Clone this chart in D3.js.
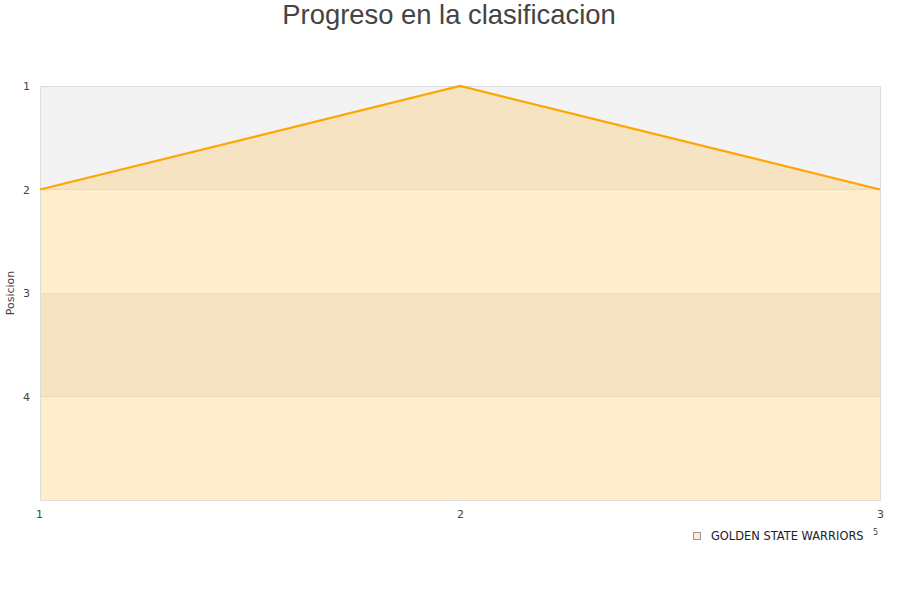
<!DOCTYPE html>
<html><head><meta charset="utf-8">
<script src="https://cdn.jsdelivr.net/npm/d3@7"></script>
<style>body{margin:0;background:#fff}svg{display:block}</style>
</head><body>
<svg id="c" width="900" height="600"></svg>
<script>
const jornadas = [1, 2, 3];
const posiciones = [2, 1, 2];
const yTicks = [1, 2, 3, 4];
const seriesName = "GOLDEN STATE WARRIORS";
const title = "Progreso en la clasificacion";
const yLabel = "Posicion";

const svg = d3.select("#c");
const m = {l: 40, r: 880, t: 86, b: 500};
const x = d3.scaleLinear().domain([1, 3]).range([m.l, m.r]);
const y = d3.scaleLinear().domain([1, 5]).range([m.t, m.b]);

// bands
const bands = [[1,2],[2,3],[3,4],[4,5]];
svg.selectAll("rect.band").data(bands).enter().append("rect")
  .attr("x", m.l).attr("width", m.r - m.l)
  .attr("y", d => y(d[0])).attr("height", d => y(d[1]) - y(d[0]))
  .attr("fill", (d,i) => i % 2 === 0 ? "#f3f3f3" : "#ffffff");

// grid lines
svg.selectAll("line.grid").data([2,3,4]).enter().append("line")
  .attr("x1", m.l).attr("x2", m.r).attr("y1", d => y(d)).attr("y2", d => y(d))
  .attr("stroke", "#e6e6e6").attr("stroke-width", 1).attr("shape-rendering","crispEdges");

const pts = jornadas.map((j,i) => [j, posiciones[i]]);
svg.append("path").datum(pts)
  .attr("d", d3.area().x(d => x(d[0])).y0(y(5)).y1(d => y(d[1])))
  .attr("fill", "#ffa500").attr("fill-opacity", 0.2);

// border
svg.append("rect").attr("x", m.l + 0.5).attr("y", m.t + 0.5)
  .attr("width", m.r - m.l).attr("height", m.b - m.t)
  .attr("fill", "none").attr("stroke", "#dddddd");

svg.append("path").datum(pts)
  .attr("d", d3.line().x(d => x(d[0])).y(d => y(d[1])))
  .attr("fill", "none").attr("stroke", "#ffa500").attr("stroke-width", 2.2);

// axes
const ya = d3.axisLeft(y).tickValues(yTicks).tickSize(0).tickPadding(10).tickFormat(d3.format("d"));
const gy = svg.append("g").attr("transform", `translate(${m.l},0)`).call(ya);
gy.select(".domain").remove();
gy.selectAll("text").attr("font-family", "DejaVu Sans, sans-serif").attr("font-size", 11).attr("fill", "#444");

const xa = d3.axisBottom(x).tickValues(jornadas).tickSize(0).tickPadding(10).tickFormat(d3.format("d"));
const gx = svg.append("g").attr("transform", `translate(0,${m.b})`).call(xa);
gx.select(".domain").remove();
gx.selectAll("text").attr("font-family", "DejaVu Sans, sans-serif").attr("font-size", 11).attr("fill", "#444")
  .attr("dx", d => d === 1 ? -1 : 0);

svg.append("text").attr("transform", "translate(14,293) rotate(-90)")
  .attr("text-anchor", "middle").attr("font-family", "DejaVu Sans, sans-serif")
  .attr("font-size", 11).attr("fill", "#444").text(yLabel);

svg.append("text").attr("x", 449).attr("y", 24).attr("text-anchor", "middle")
  .attr("font-family", "Liberation Sans, Arial, sans-serif").attr("font-size", 27.4)
  .attr("fill", "#444").text(title);

// legend
svg.append("rect").attr("x", 693.5).attr("y", 532.5).attr("width", 7).attr("height", 7)
  .attr("fill", "#ffedcc").attr("stroke", "#999");
svg.append("text").attr("x", 711).attr("y", 540).attr("font-family", "DejaVu Sans, sans-serif")
  .attr("font-size", 11.45).attr("fill", "#222").text(seriesName);
svg.append("text").attr("x", 873).attr("y", 535).attr("font-family", "DejaVu Sans, sans-serif")
  .attr("font-size", 8).attr("fill", "#444").text("5");
</script>
</body></html>
